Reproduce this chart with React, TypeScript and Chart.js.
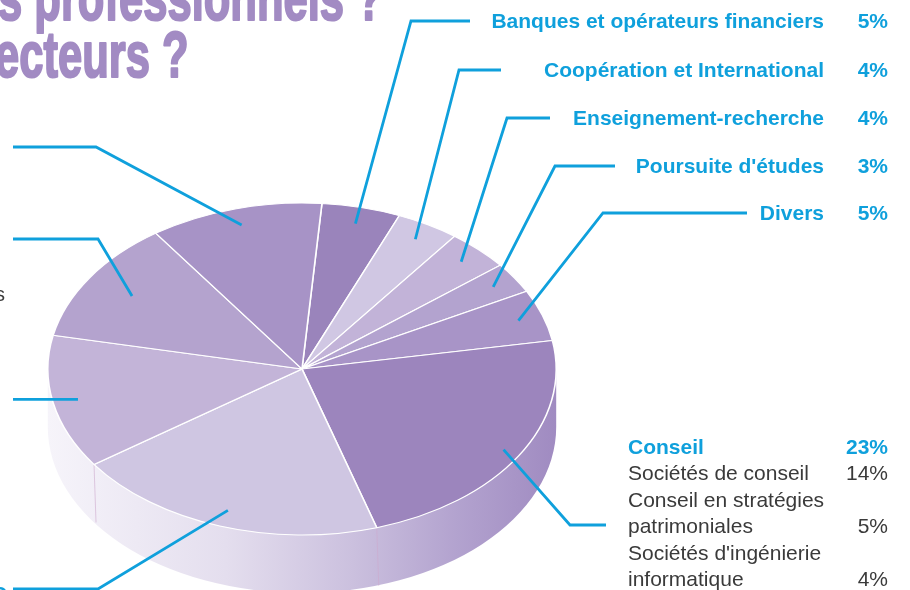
import React, { useEffect, useRef } from 'react';
import { Chart, registerables } from 'chart.js';

Chart.register(...registerables);

// ---- data ----
const sectors = [
  'Banques et opérateurs financiers',
  'Coopération et International',
  'Enseignement-recherche',
  "Poursuite d'études",
  'Divers',
  'Conseil',
  'Entreprises industrielles',
  'Commerce et distribution',
  'Administrations',
  'Assurances',
];
const shares = [5, 4, 4, 3, 5, 23, 20, 13, 12, 11];
const sliceColors = [
  '#9a84bb', '#d0c7e3', '#c2b3d8', '#b3a3cf', '#a894c7',
  '#9c85bd', '#cfc6e2', '#c3b4d8', '#b4a3ce', '#a793c6',
];
const conseilDetails = ['Sociétés de conseil', 'Conseil en stratégies\npatrimoniales', "Sociétés d'ingénierie\ninformatique"];
const conseilDetailShares = [14, 5, 4];
const titleLines = ['s professionnels ?', 'ecteurs ?'];

// ---- layout / style ----
const BLUE = '#0fa0dc';
const PURPLE = '#a28bc3';
const GREY = '#3a3a3a';
const FONT = '"Liberation Sans", Arial, sans-serif';
const CENTER_Y = 369;
const RADIUS_Y = 166;
const DEPTH = 58;
// right-hand labels: index, baseline, corner x, line end x
const rightLabels = [
  { i: 0, base: 28, corner: 411, end: 470 },
  { i: 1, base: 77, corner: 459, end: 501 },
  { i: 2, base: 125, corner: 507, end: 550 },
  { i: 3, base: 173, corner: 555, end: 615 },
  { i: 4, base: 220, corner: 603, end: 747 },
];
const reach = [0.9, 0.9, 0.9, 0.9, 0.9, 0.93, 0.9, 0.9, 0.8, 0.9];

function geom(chart: any) {
  const arc: any = chart.getDatasetMeta(0).data[0];
  const cx = arc.x;
  const R = arc.outerRadius;
  return { cx, cyRaw: arc.y, R, k: RADIUS_Y / R };
}

function anchor(chart: any, i: number) {
  const { cx, R } = geom(chart);
  const a: any = chart.getDatasetMeta(0).data[i];
  const m = (a.startAngle + a.endAngle) / 2;
  const f = reach[i];
  return { x: cx + f * R * Math.cos(m), y: CENTER_Y + f * RADIUS_Y * Math.sin(m) };
}

const pie3d = {
  id: 'pie3d',
  beforeDatasetsDraw(chart: any) {
    const ctx = chart.ctx;
    const { cx, cyRaw, R, k } = geom(chart);
    // side wall
    ctx.save();
    const g = ctx.createLinearGradient(cx - R, 0, cx + R, 0);
    g.addColorStop(0, '#f6f4fa');
    g.addColorStop(0.35, '#e4deee');
    g.addColorStop(0.6, '#cbc0de');
    g.addColorStop(0.8, '#b3a3cf');
    g.addColorStop(1, '#a08bc1');
    ctx.beginPath();
    ctx.ellipse(cx, CENTER_Y, R, RADIUS_Y, 0, 0, Math.PI, false);
    ctx.ellipse(cx, CENTER_Y + DEPTH, R, RADIUS_Y, 0, Math.PI, 0, true);
    ctx.closePath();
    ctx.fillStyle = g;
    ctx.fill();
    // faint separators on the wall
    const arcs = chart.getDatasetMeta(0).data;
    ctx.strokeStyle = 'rgba(205,170,205,0.6)';
    ctx.lineWidth = 1;
    arcs.forEach((a: any) => {
      let t = a.startAngle % (2 * Math.PI);
      if (t < 0) t += 2 * Math.PI;
      if (t > 0.02 && t < Math.PI - 0.02) {
        const x = cx + R * Math.cos(t);
        const y = CENTER_Y + RADIUS_Y * Math.sin(t);
        ctx.beginPath();
        ctx.moveTo(x, y);
        ctx.lineTo(x + 2, y + DEPTH);
        ctx.stroke();
      }
    });
    ctx.restore();
    // squash the top face
    ctx.save();
    ctx.translate(0, CENTER_Y);
    ctx.scale(1, k);
    ctx.translate(0, -cyRaw);
  },
  afterDatasetsDraw(chart: any) {
    chart.ctx.restore();
  },
  afterDraw(chart: any) {
    const ctx = chart.ctx;
    ctx.save();
    // title fragments
    ctx.fillStyle = PURPLE;
    ctx.strokeStyle = PURPLE;
    ctx.lineWidth = 2.2;
    ctx.lineJoin = 'round';
    ctx.font = `bold 65px ${FONT}`;
    ctx.textBaseline = 'alphabetic';
    ctx.save();
    ctx.scale(0.67, 1);
    ctx.textAlign = 'left';
    ctx.fillText(titleLines[0], -2 / 0.67, 20);
    ctx.strokeText(titleLines[0], -2 / 0.67, 20);
    ctx.fillText(titleLines[1], -5 / 0.67, 77);
    ctx.strokeText(titleLines[1], -5 / 0.67, 77);
    ctx.restore();

    // leader lines
    ctx.strokeStyle = BLUE;
    ctx.lineWidth = 2.8;
    ctx.lineJoin = 'miter';
    const poly = (pts: number[][]) => {
      ctx.beginPath();
      ctx.moveTo(pts[0][0], pts[0][1]);
      for (let j = 1; j < pts.length; j++) ctx.lineTo(pts[j][0], pts[j][1]);
      ctx.stroke();
    };
    rightLabels.forEach((l) => {
      const p = anchor(chart, l.i);
      const ly = l.base - 7;
      poly([[p.x, p.y], [l.corner, ly], [l.end, ly]]);
    });
    // Conseil
    const pc = anchor(chart, 5);
    poly([[pc.x, pc.y], [570, 525], [606, 525]]);
    // left side
    const pj = anchor(chart, 9);
    poly([[pj.x, pj.y], [96, 147], [13, 147]]);
    const pi = anchor(chart, 8);
    poly([[pi.x, pi.y], [98, 239], [13, 239]]);
    const ph = anchor(chart, 7);
    poly([[ph.x, ph.y], [13, ph.y]]);
    const pg = anchor(chart, 6);
    poly([[pg.x, pg.y], [98, 589], [13, 589]]);

    // right labels
    ctx.fillStyle = BLUE;
    ctx.font = `bold 21px ${FONT}`;
    rightLabels.forEach((l) => {
      ctx.textAlign = 'right';
      ctx.fillText(sectors[l.i], 824, l.base);
      ctx.fillText(`${shares[l.i]}%`, 888, l.base);
    });

    // Conseil block
    let y = 454;
    ctx.textAlign = 'left';
    ctx.fillText(sectors[5], 628, y);
    ctx.textAlign = 'right';
    ctx.fillText(`${shares[5]}%`, 888, y);
    ctx.font = `21px ${FONT}`;
    ctx.fillStyle = GREY;
    conseilDetails.forEach((d, idx) => {
      const lines = d.split('\n');
      lines.forEach((ln, li) => {
        y += 26.4;
        ctx.textAlign = 'left';
        ctx.fillText(ln, 628, y);
        if (li === lines.length - 1) {
          ctx.textAlign = 'right';
          ctx.fillText(`${conseilDetailShares[idx]}%`, 888, y);
        }
      });
    });

    // cropped label fragments on the left edge
    ctx.textAlign = 'right';
    ctx.fillStyle = GREY;
    ctx.font = `20px ${FONT}`;
    ctx.fillText('Services', 5, 301);
    ctx.fillStyle = BLUE;
    ctx.font = `bold 21px ${FONT}`;
    ctx.fillText('C', 7, 601);
    ctx.restore();
  },
};

export default function App() {
  const ref = useRef<HTMLCanvasElement>(null);
  useEffect(() => {
    document.body.style.margin = '0';
    const chart = new Chart(ref.current as HTMLCanvasElement, {
      type: 'pie',
      data: {
        labels: sectors,
        datasets: [
          {
            data: shares,
            backgroundColor: sliceColors,
            borderColor: '#ffffff',
            borderWidth: 1.6,
            clip: false as any,
          } as any,
        ],
      },
      options: {
        responsive: false,
        maintainAspectRatio: false,
        devicePixelRatio: 1,
        animation: false,
        events: [],
        rotation: 4.5,
        layout: { padding: { left: 47, right: 353, top: 10, bottom: 70 } },
        plugins: { legend: { display: false }, tooltip: { enabled: false } },
      },
      plugins: [pie3d],
    });
    return () => chart.destroy();
  }, []);
  return (
    <div style={{ position: 'fixed', left: 0, top: 0, width: 910, height: 590, background: '#fff' }}>
      <canvas ref={ref} width={910} height={590} style={{ display: 'block' }} />
    </div>
  );
}
